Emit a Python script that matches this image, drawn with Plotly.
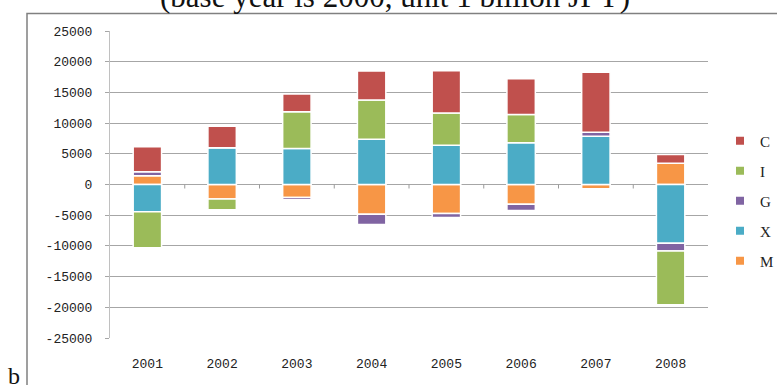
import plotly.graph_objects as go

# Year-on-year contributions (base year 2000, unit: 1 billion JPY)
years = ["2001", "2002", "2003", "2004", "2005", "2006", "2007", "2008"]
C = [4070, 3490, 2880, 4720, 6870, 5800, 9810, 1410]
I = [-5860, -1740, 6010, 6400, 5260, 4590, 0, -8750]
G = [650, 0, -370, -1660, -620, -1020, 630, -1270]
X = [-4430, 5990, 5850, 7360, 6380, 6820, 7860, -9580]
M = [1430, -2360, -2120, -4850, -4740, -3200, -700, 3460]

y_ticks = [25000, 20000, 15000, 10000, 5000, 0, -5000, -10000, -15000, -20000, -25000]
y_tick_text = [str(v) for v in y_ticks]

colors = {"C": "#C0504D", "I": "#9BBB59", "G": "#8064A2", "X": "#4BACC6", "M": "#F79646"}

# stacking order (relative mode): M, X, G, I, C
stack = [("M", M), ("X", X), ("G", G), ("I", I), ("C", C)]

W, H = 777, 385
L, R, T, B = 110, 69, 31, 47
pw, ph = W - L - R, H - T - B


def px_x(p):
    return (p - L) / pw


def px_y(p):
    return (H - B - p) / ph


fig = go.Figure()
for name, vals in stack:
    fig.add_trace(go.Bar(
        x=years, y=vals, name=name, showlegend=False, width=0.38,
        marker=dict(color=colors[name], line=dict(color="white", width=1.5)),
    ))

# legend entries with small square swatches
for name in ["C", "I", "G", "X", "M"]:
    fig.add_trace(go.Scatter(
        x=[None], y=[None], mode="markers", name=name, legendgroup=name,
        marker=dict(symbol="square", size=8, color=colors[name]),
    ))

tick_font = dict(family="Liberation Mono", size=13, color="#222")

shapes = [
    # outer chart frame
    dict(type="rect", xref="paper", yref="paper",
         x0=px_x(27), x1=px_x(900), y0=px_y(420), y1=px_y(13.5),
         line=dict(color="#808080", width=1.5), fillcolor="rgba(0,0,0,0)", layer="below"),
]
# small category-boundary tick marks on the zero line
for i in range(len(years) - 1):
    shapes.append(dict(
        type="line", xref="x", yref="y", ysizemode="pixel", yanchor=0,
        x0=i + 0.5, x1=i + 0.5, y0=0, y1=-4,
        line=dict(color="#9a9a9a", width=1),
    ))

fig.update_layout(
    width=W, height=H, autosize=False,
    margin=dict(l=L, r=R, t=T, b=B, pad=0, autoexpand=False),
    paper_bgcolor="white", plot_bgcolor="white",
    barmode="relative", bargap=0.62,
    xaxis=dict(type="category", showgrid=False, showline=False, ticks="",
               tickfont=tick_font, ticklabelstandoff=16, zeroline=False),
    yaxis=dict(range=[-25000, 25000], tickvals=y_ticks, ticktext=y_tick_text,
               showgrid=True, gridcolor="#a6a6a6", gridwidth=1,
               showline=True, linecolor="#c0c0c0", linewidth=1,
               ticks="outside", ticklen=4, tickcolor="#a6a6a6",
               tickfont=tick_font, ticklabelstandoff=10, zeroline=False),
    legend=dict(x=px_x(720), xanchor="left", y=px_y(201), yanchor="middle",
                traceorder="grouped", tracegroupgap=7.5,
                font=dict(family="Liberation Serif", size=15, color="#222"),
                bgcolor="rgba(0,0,0,0)", itemwidth=30),
    shapes=shapes,
    annotations=[
        dict(text="(base year is 2000, unit 1 billion JPY)", xref="paper", yref="paper",
             x=px_x(395), y=px_y(16), xanchor="center", yanchor="bottom", showarrow=False,
             font=dict(family="Liberation Serif", size=31, color="#111")),
        dict(text="b", xref="paper", yref="paper",
             x=px_x(14), y=px_y(391), xanchor="center", yanchor="bottom", showarrow=False,
             font=dict(family="Liberation Serif", size=24, color="#111")),
    ],
)

fig.write_html("out.html")
